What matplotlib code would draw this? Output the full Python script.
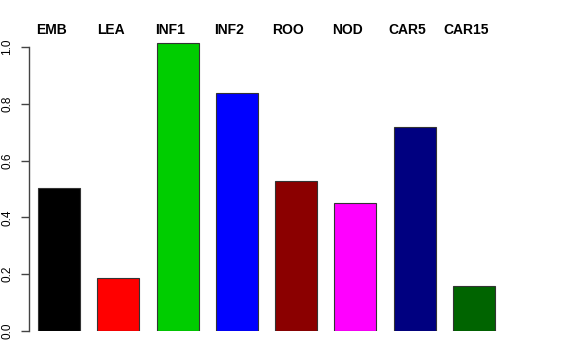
import matplotlib
matplotlib.use("Agg")
import matplotlib.pyplot as plt
import matplotlib.transforms as mtransforms

categories = ["EMB", "LEA", "INF1", "INF2", "ROO", "NOD", "CAR5", "CAR15"]
values = [0.502, 0.186, 1.014, 0.837, 0.529, 0.450, 0.718, 0.157]
colors = ["#000000", "#FF0000", "#00CD00", "#0000FF", "#8B0000", "#FF00FF", "#000080", "#006400"]
yticks = [0.0, 0.2, 0.4, 0.6, 0.8, 1.0]
ytick_labels = ["0.0", "0.2", "0.4", "0.6", "0.8", "1.0"]

plt.rcParams['font.family'] = ['Liberation Sans', 'DejaVu Sans']

W, H = 576, 360
fig = plt.figure(figsize=(W / 100, H / 100), dpi=100)

px_unit = 59.3
y0_px, y1_px = 331, 47
ymax = 1.05
top_px = y0_px - ymax * (y0_px - y1_px)
left_px, right_px = 29, 545
ax = fig.add_axes([left_px / W, (H - y0_px) / H, (right_px - left_px) / W, (y0_px - top_px) / H])

x = list(range(len(categories)))
ax.bar(x, values, width=42 / px_unit, color=colors, edgecolor="#333333", linewidth=0.8)

ax.set_xlim(-(59 - left_px) / px_unit, (right_px - 59) / px_unit)
ax.set_ylim(0, ymax)

for s in ["top", "right", "bottom"]:
    ax.spines[s].set_visible(False)
ax.spines["left"].set_bounds(0, 1.0)
ax.spines["left"].set_color("#444444")
ax.spines["left"].set_linewidth(1.0)

ax.set_xticks([])
ax.set_yticks(yticks)
ax.set_yticklabels(ytick_labels, rotation=90, va="center", fontsize=8.5)
ax.tick_params(axis="y", length=5.8, width=1.0, color="#444444", pad=5.5)

trans = mtransforms.blended_transform_factory(ax.transData, fig.transFigure)
for xi, lab in zip(x, categories):
    ax.text(xi - 0.13, 1 - 29.5 / H, lab, transform=trans, ha="center", va="center",
            fontsize=10, fontweight="bold")

fig.savefig("out.png", dpi=100)
